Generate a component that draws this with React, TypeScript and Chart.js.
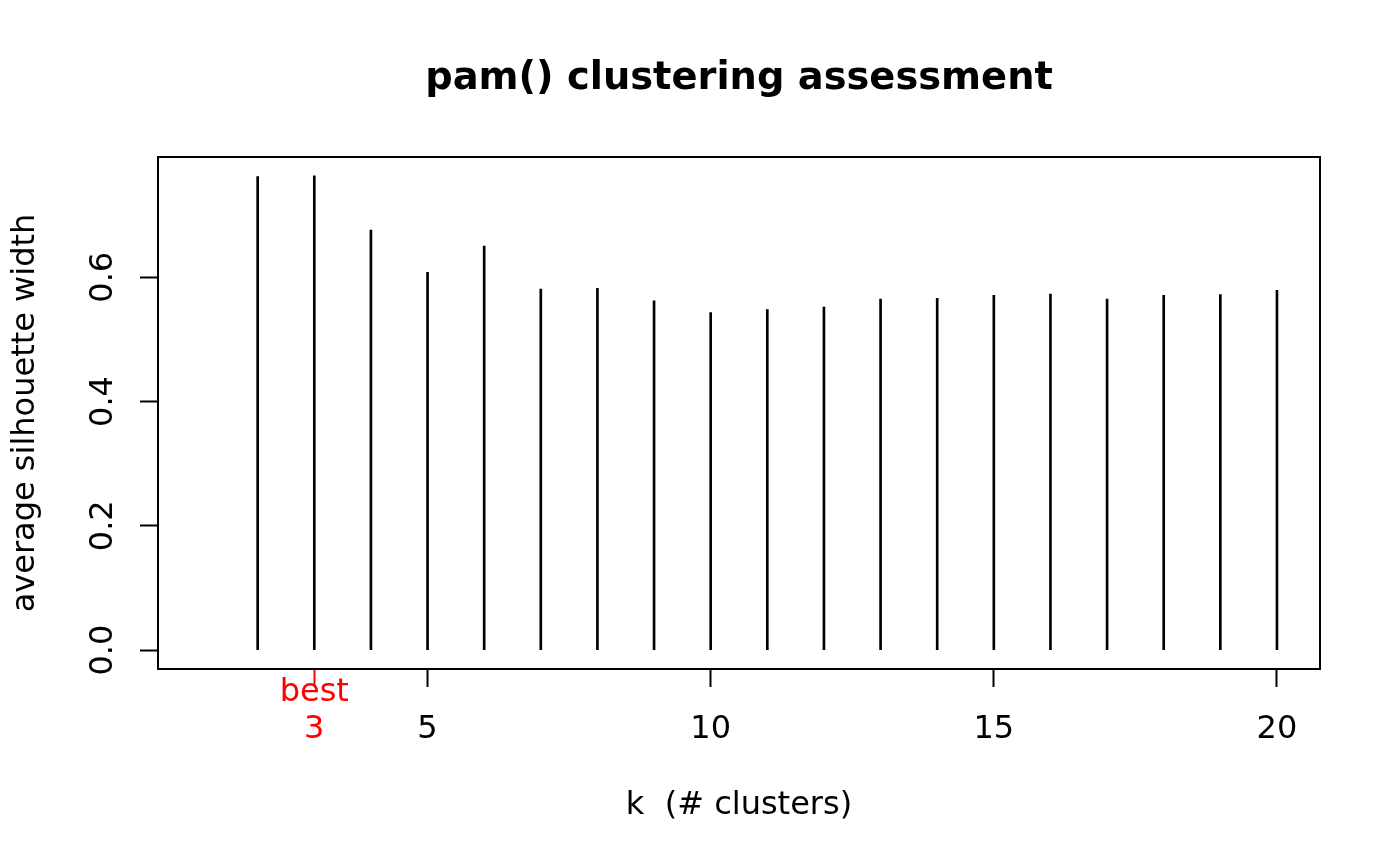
import React, { useEffect, useRef } from "react";
import { Chart, registerables } from "chart.js";

Chart.register(...registerables);

const kValues = [1, 2, 3, 4, 5, 6, 7, 8, 9, 10, 11, 12, 13, 14, 15, 16, 17, 18, 19, 20];
const avgWidth = [0, 0.762, 0.763, 0.676, 0.608, 0.65, 0.581, 0.582, 0.562, 0.543, 0.548, 0.552, 0.565, 0.566, 0.571, 0.573, 0.565, 0.571, 0.572, 0.579];
const xTickValues = [3, 5, 10, 15, 20];
const yTickValues = [0, 0.2, 0.4, 0.6];
const yTickLabels = ["0.0", "0.2", "0.4", "0.6"];
const bestK = 3;
const titleText = "pam() clustering assessment";
const xTitle = "k  (# clusters)";
const yTitle = "average silhouette width";
const bestLabel = "best";

const FONT = '"DejaVu Sans", sans-serif';

const textPlugin = {
  id: "rtext",
  afterDraw(chart: any) {
    const ctx = chart.ctx;
    const area = chart.chartArea;
    const xs = chart.scales.x;
    const ys = chart.scales.y;
    ctx.save();
    // box
    ctx.strokeStyle = "#000";
    ctx.lineWidth = 2;
    ctx.strokeRect(area.left, area.top, area.right - area.left, area.bottom - area.top);
    const cx = (area.left + area.right) / 2;
    const cy = (area.top + area.bottom) / 2;
    // title
    ctx.fillStyle = "#000";
    ctx.font = `bold 38.4px ${FONT}`;
    ctx.textAlign = "center";
    ctx.textBaseline = "alphabetic";
    ctx.fillText(titleText, cx, 89);
    // x tick labels
    ctx.font = `32px ${FONT}`;
    xTickValues.forEach((v) => {
      const px = xs.getPixelForValue(v);
      ctx.fillStyle = v === bestK ? "#ff0000" : "#000";
      ctx.fillText(String(v), px, 738);
    });
    ctx.fillStyle = "#ff0000";
    ctx.fillText(bestLabel, xs.getPixelForValue(bestK), 701);
    // x title
    ctx.fillStyle = "#000";
    ctx.fillText(xTitle, cx, 814);
    // y tick labels
    yTickValues.forEach((v, i) => {
      const py = ys.getPixelForValue(v);
      ctx.save();
      ctx.translate(112, py);
      ctx.rotate(-Math.PI / 2);
      ctx.fillText(yTickLabels[i], 0, 0);
      ctx.restore();
    });
    // y title
    ctx.save();
    ctx.translate(34, cy);
    ctx.rotate(-Math.PI / 2);
    ctx.fillText(yTitle, 0, 0);
    ctx.restore();
    ctx.restore();
  },
};

export default function App() {
  const ref = useRef<HTMLCanvasElement>(null);
  useEffect(() => {
    if (!ref.current) return;
    const chart = new Chart(ref.current, {
      type: "bar",
      data: {
        datasets: [
          {
            data: kValues.map((k, i) => ({ x: k, y: avgWidth[i] })),
            backgroundColor: (c: any) => (c.raw && c.raw.y === 0 ? "rgba(0,0,0,0)" : "#000"),
            borderWidth: 0,
            barThickness: 2,
          },
        ],
      },
      options: {
        responsive: false,
        animation: false,
        devicePixelRatio: 1,
        layout: { padding: { left: 0, right: 80, top: 157, bottom: 0 } },
        plugins: { legend: { display: false }, tooltip: { enabled: false }, title: { display: false } },
        scales: {
          x: {
            type: "linear",
            min: 0.24,
            max: 20.76,
            offset: false,
            afterBuildTicks: (s: any) => {
              s.ticks = xTickValues.map((v) => ({ value: v }));
            },
            afterFit: (s: any) => {
              s.height = 197;
            },
            ticks: { display: false },
            border: { display: false },
            grid: {
              drawOnChartArea: false,
              drawTicks: true,
              tickLength: 18,
              tickWidth: 2,
              tickColor: (c: any) => (c.tick && c.tick.value === bestK ? "#ff0000" : "#000"),
              offset: false,
            },
          },
          y: {
            type: "linear",
            min: -0.0305,
            max: 0.7935,
            afterBuildTicks: (s: any) => {
              s.ticks = yTickValues.map((v) => ({ value: v }));
            },
            afterFit: (s: any) => {
              s.width = 158;
            },
            ticks: { display: false },
            border: { display: false },
            grid: {
              drawOnChartArea: false,
              drawTicks: true,
              tickLength: 18,
              tickWidth: 2,
              tickColor: "#000",
            },
          },
        },
      },
      plugins: [textPlugin],
    } as any);
    return () => chart.destroy();
  }, []);
  return (
    <div style={{ position: "fixed", left: 0, top: 0, width: 1400, height: 866, background: "#fff" }}>
      <canvas ref={ref} width={1400} height={866} style={{ width: 1400, height: 866 }} />
    </div>
  );
}
